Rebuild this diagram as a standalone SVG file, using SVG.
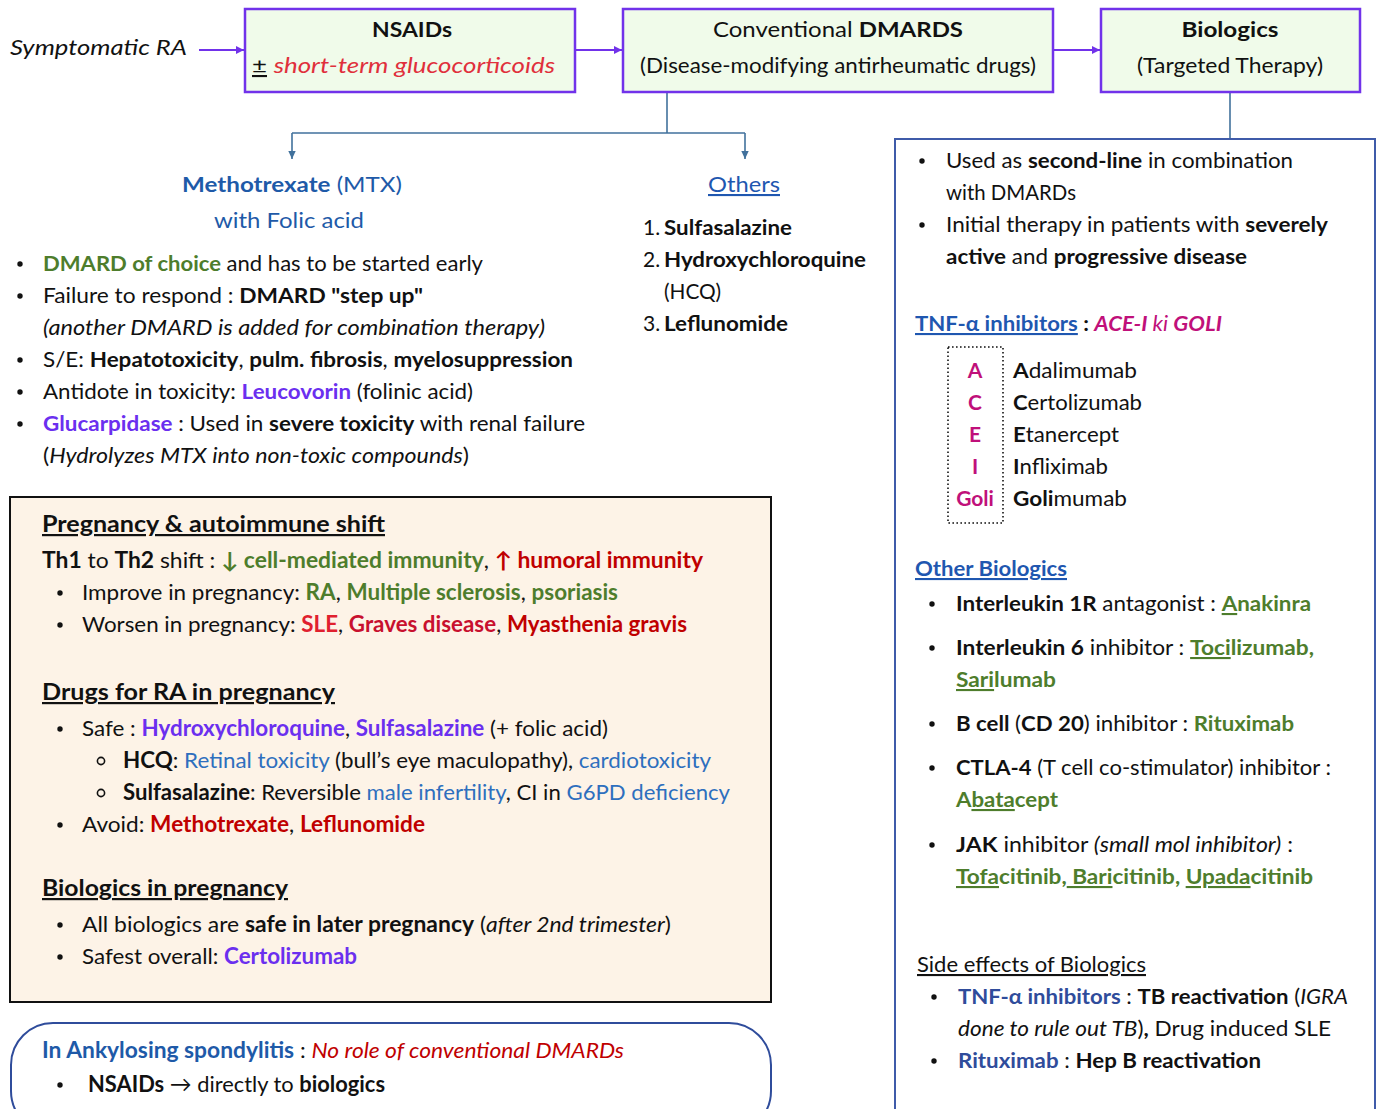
<svg xmlns="http://www.w3.org/2000/svg" width="1379" height="1109" viewBox="0 0 1379 1109">
  <defs>
    <marker id="ahP" markerUnits="userSpaceOnUse" markerWidth="9" markerHeight="9" refX="8" refY="4.5" orient="auto">
      <path d="M0,0.5 L8,4.5 L0,8.5 z" fill="#7132EA"/>
    </marker>
    <marker id="ahB" markerUnits="userSpaceOnUse" markerWidth="9" markerHeight="9" refX="8" refY="4.5" orient="auto">
      <path d="M0,0.8 L8,4.5 L0,8.2 z" fill="#41719C"/>
    </marker>
    <circle id="dot" r="2.7" fill="#111"/>
    <circle id="ring" r="3.6" fill="none" stroke="#111" stroke-width="1.6"/>
    <style>
      text { font-family: Lato, "Liberation Sans", sans-serif; font-size: 21px; fill: #111; }
      .b { font-weight: bold; }
      .i { font-style: italic; }
      .u { text-decoration: underline; }
      .box { fill: #F0FBEA; stroke: #7132EA; stroke-width: 2.5; }
      .blue { fill: #1E5AA8; }
      .lnk { fill: #1F57B0; }
      .grn { fill: #4E7D2C; }
      .pur { fill: #6B2FEF; }
      .red { fill: #C00000; }
      .mag { fill: #C0107A; }
      .sky { fill: #2E6FBE; }
      .navy { fill: #2F4C9B; }
      .nar { font-size: 22px; }
      .flow { fill: none; stroke: #7132EA; stroke-width: 2; }
      .conn { fill: none; stroke: #41719C; stroke-width: 1.6; }
    </style>
  </defs>

  <rect width="1379" height="1109" fill="#ffffff"/>

  <!-- connectors -->
  <g id="connectors">
    <line class="flow" x1="199" y1="50" x2="244" y2="50" marker-end="url(#ahP)"/>
    <line class="flow" x1="575" y1="50" x2="622" y2="50" marker-end="url(#ahP)"/>
    <line class="flow" x1="1053" y1="50" x2="1100" y2="50" marker-end="url(#ahP)"/>
    <path class="conn" d="M667,92 V133"/>
    <path class="conn" d="M292,133 H745"/>
    <path class="conn" d="M292,133 V159" marker-end="url(#ahB)"/>
    <path class="conn" d="M745,133 V159" marker-end="url(#ahB)"/>
    <path class="conn" d="M1230,92 V139"/>
  </g>

  <!-- start label -->
  <g id="start">
    <text x="10" y="55" class="i" font-size="22" textLength="177" lengthAdjust="spacingAndGlyphs">Symptomatic RA</text>
  </g>

  <!-- NSAIDs -->
  <g id="nsaids">
    <rect class="box" x="245" y="9" width="330" height="83"/>
    <text x="412" y="37" text-anchor="middle" class="b" textLength="80" lengthAdjust="spacingAndGlyphs">NSAIDs</text>
    <text x="252" y="73" textLength="303" lengthAdjust="spacingAndGlyphs"><tspan class="u">±</tspan> <tspan class="i" fill="#E0303C">short-term glucocorticoids</tspan></text>
  </g>

  <!-- Conventional DMARDs -->
  <g id="dmards">
    <rect class="box" x="623" y="9" width="430" height="83"/>
    <text x="838" y="37" text-anchor="middle" textLength="250" lengthAdjust="spacingAndGlyphs">Conventional <tspan class="b">DMARDS</tspan></text>
    <text x="838" y="73" text-anchor="middle" textLength="396" lengthAdjust="spacingAndGlyphs">(Disease-modifying antirheumatic drugs)</text>
  </g>

  <!-- Biologics -->
  <g id="biologics">
    <rect class="box" x="1101" y="9" width="259" height="83"/>
    <text x="1230" y="37" text-anchor="middle" class="b" textLength="97" lengthAdjust="spacingAndGlyphs">Biologics</text>
    <text x="1230" y="73" text-anchor="middle" textLength="186" lengthAdjust="spacingAndGlyphs">(Targeted Therapy)</text>
  </g>

  <!-- Methotrexate -->
  <g id="methotrexate">
    <text x="292" y="192" text-anchor="middle" class="blue" textLength="220" lengthAdjust="spacingAndGlyphs"><tspan class="b">Methotrexate</tspan> (MTX)</text>
    <text x="289" y="228" text-anchor="middle" class="blue" textLength="150" lengthAdjust="spacingAndGlyphs">with Folic acid</text>
    <use href="#dot" x="20" y="264"/>
    <use href="#dot" x="20" y="296"/>
    <use href="#dot" x="20" y="360"/>
    <use href="#dot" x="20" y="392"/>
    <use href="#dot" x="20" y="424"/>
    <text x="43" y="271" textLength="440" lengthAdjust="spacingAndGlyphs"><tspan class="b grn">DMARD of choice</tspan> and has to be started early</text>
    <text x="43" y="303" textLength="380" lengthAdjust="spacingAndGlyphs">Failure to respond :  <tspan class="b">DMARD "step up"</tspan></text>
    <text x="43" y="335" class="i" textLength="502" lengthAdjust="spacingAndGlyphs">(another DMARD is added for combination therapy)</text>
    <text x="43" y="367" textLength="530" lengthAdjust="spacingAndGlyphs">S/E: <tspan class="b">Hepatotoxicity</tspan>, <tspan class="b">pulm. fibrosis</tspan>, <tspan class="b">myelosuppression</tspan></text>
    <text x="43" y="399" textLength="430" lengthAdjust="spacingAndGlyphs">Antidote in toxicity: <tspan class="b pur">Leucovorin</tspan> (folinic acid)</text>
    <text x="43" y="431" textLength="542" lengthAdjust="spacingAndGlyphs"><tspan class="b pur">Glucarpidase</tspan> : Used in <tspan class="b">severe toxicity</tspan> with renal failure</text>
    <text x="43" y="463" textLength="426" lengthAdjust="spacingAndGlyphs">(<tspan class="i">Hydrolyzes MTX into non-toxic compounds</tspan>)</text>
  </g>

  <!-- Other conventional DMARDs -->
  <g id="others">
    <text x="708" y="192" class="u lnk" textLength="72" lengthAdjust="spacingAndGlyphs">Others</text>
    <text x="643" y="235">1.</text>
    <text x="664" y="235" class="b" textLength="128" lengthAdjust="spacingAndGlyphs">Sulfasalazine</text>
    <text x="643" y="267">2.</text>
    <text x="664" y="267" class="b" textLength="202" lengthAdjust="spacingAndGlyphs">Hydroxychloroquine</text>
    <text x="664" y="299" textLength="57" lengthAdjust="spacingAndGlyphs">(HCQ)</text>
    <text x="643" y="331">3.</text>
    <text x="664" y="331" class="b" textLength="124" lengthAdjust="spacingAndGlyphs">Leflunomide</text>
  </g>

  <!-- Biologics detail panel -->
  <g id="biologics-panel">
    <rect x="895" y="139" width="480" height="990" fill="none" stroke="#3F5BA9" stroke-width="2"/>
    <use href="#dot" x="922" y="161"/>
    <use href="#dot" x="922" y="225"/>
    <text x="946" y="168" textLength="347" lengthAdjust="spacingAndGlyphs">Used as <tspan class="b">second-line</tspan> in combination</text>
    <text x="946" y="200" textLength="130" lengthAdjust="spacingAndGlyphs">with DMARDs</text>
    <text x="946" y="232" textLength="382" lengthAdjust="spacingAndGlyphs">Initial therapy in patients with <tspan class="b">severely</tspan></text>
    <text x="946" y="264" textLength="301" lengthAdjust="spacingAndGlyphs"><tspan class="b">active</tspan> and <tspan class="b">progressive disease</tspan></text>

    <!-- TNF-alpha inhibitors -->
    <text x="915" y="331" textLength="307" lengthAdjust="spacingAndGlyphs"><tspan class="b u lnk">TNF-α inhibitors</tspan><tspan class="b"> : </tspan><tspan class="b i mag">ACE-I</tspan><tspan class="i mag"> ki </tspan><tspan class="b i mag">GOLI</tspan></text>
    <rect x="948" y="347" width="55" height="176" fill="none" stroke="#111" stroke-width="1.6" stroke-dasharray="1.6 2.4"/>
    <g class="b mag" text-anchor="middle">
      <text class="b mag" x="975" y="378">A</text>
      <text class="b mag" x="975" y="410">C</text>
      <text class="b mag" x="975" y="442">E</text>
      <text class="b mag" x="975" y="474">I</text>
      <text class="b mag" x="975" y="506">Goli</text>
    </g>
    <text x="1013" y="378" textLength="124" lengthAdjust="spacingAndGlyphs"><tspan class="b">A</tspan>dalimumab</text>
    <text x="1013" y="410" textLength="129" lengthAdjust="spacingAndGlyphs"><tspan class="b">C</tspan>ertolizumab</text>
    <text x="1013" y="442" textLength="106" lengthAdjust="spacingAndGlyphs"><tspan class="b">E</tspan>tanercept</text>
    <text x="1013" y="474" textLength="95" lengthAdjust="spacingAndGlyphs"><tspan class="b">I</tspan>nfliximab</text>
    <text x="1013" y="506" textLength="114" lengthAdjust="spacingAndGlyphs"><tspan class="b">Goli</tspan>mumab</text>

    <!-- Other biologics -->
    <text x="915" y="576" class="b u lnk" textLength="152" lengthAdjust="spacingAndGlyphs">Other Biologics</text>
    <use href="#dot" x="932" y="604"/>
    <use href="#dot" x="932" y="648"/>
    <use href="#dot" x="932" y="724"/>
    <use href="#dot" x="932" y="768"/>
    <use href="#dot" x="932" y="845"/>
    <text x="956" y="611" textLength="355" lengthAdjust="spacingAndGlyphs"><tspan class="b">Interleukin 1R</tspan> antagonist : <tspan class="b grn u">A</tspan><tspan class="b grn">nakinra</tspan></text>
    <text x="956" y="655" textLength="358" lengthAdjust="spacingAndGlyphs"><tspan class="b">Interleukin 6</tspan> inhibitor : <tspan class="b grn u">Toci</tspan><tspan class="b grn">lizumab,</tspan></text>
    <text x="956" y="687" textLength="100" lengthAdjust="spacingAndGlyphs"><tspan class="b grn u">Sari</tspan><tspan class="b grn">lumab</tspan></text>
    <text x="956" y="731" textLength="338" lengthAdjust="spacingAndGlyphs"><tspan class="b">B cell</tspan> (<tspan class="b">CD 20</tspan>) inhibitor : <tspan class="b grn">Rituximab</tspan></text>
    <text x="956" y="775" textLength="375" lengthAdjust="spacingAndGlyphs"><tspan class="b">CTLA-4</tspan> (T cell co-stimulator) inhibitor :</text>
    <text x="956" y="807" textLength="102" lengthAdjust="spacingAndGlyphs"><tspan class="b grn">A</tspan><tspan class="b grn u">bata</tspan><tspan class="b grn">cept</tspan></text>
    <text x="956" y="852" textLength="337" lengthAdjust="spacingAndGlyphs"><tspan class="b">JAK</tspan> inhibitor <tspan class="i">(small mol inhibitor)</tspan> :</text>
    <text x="956" y="884" textLength="357" lengthAdjust="spacingAndGlyphs"><tspan class="b grn u">Tofa</tspan><tspan class="b grn">citinib,</tspan><tspan class="b grn u"> Bari</tspan><tspan class="b grn">citinib, </tspan><tspan class="b grn u">Upada</tspan><tspan class="b grn">citinib</tspan></text>

    <!-- Side effects -->
    <text x="917" y="972" class="u" textLength="229" lengthAdjust="spacingAndGlyphs">Side effects of Biologics</text>
    <use href="#dot" x="934" y="997"/>
    <use href="#dot" x="934" y="1061"/>
    <text x="958" y="1004" textLength="390" lengthAdjust="spacingAndGlyphs"><tspan class="b navy">TNF-α inhibitors</tspan> : <tspan class="b">TB reactivation</tspan> (<tspan class="i">IGRA</tspan></text>
    <text x="958" y="1036" textLength="373" lengthAdjust="spacingAndGlyphs"><tspan class="i">done to rule out TB</tspan>)<tspan class="b">,</tspan> Drug induced SLE</text>
    <text x="958" y="1068" textLength="303" lengthAdjust="spacingAndGlyphs"><tspan class="b navy">Rituximab</tspan> : <tspan class="b">Hep B reactivation</tspan></text>
  </g>

  <!-- Pregnancy box -->
  <g id="pregnancy">
    <rect x="10" y="497" width="761" height="505" fill="#FDF3E7" stroke="#111" stroke-width="2"/>
    <text x="42" y="532" class="b u nar" textLength="343" lengthAdjust="spacingAndGlyphs">Pregnancy &amp; autoimmune shift</text>
    <text x="42" y="568" class="nar" textLength="661" lengthAdjust="spacingAndGlyphs"><tspan class="b">Th1</tspan> to <tspan class="b">Th2</tspan> shift : <tspan class="b grn">↓ cell-mediated immunity</tspan>, <tspan class="b red">↑ humoral immunity</tspan></text>
    <use href="#dot" x="60" y="593"/>
    <use href="#dot" x="60" y="625"/>
    <text x="82" y="600" class="nar" textLength="536" lengthAdjust="spacingAndGlyphs">Improve in pregnancy: <tspan class="b grn">RA</tspan>, <tspan class="b grn">Multiple sclerosis</tspan>, <tspan class="b grn">psoriasis</tspan></text>
    <text x="82" y="632" class="nar" textLength="605" lengthAdjust="spacingAndGlyphs">Worsen in pregnancy: <tspan class="b" fill="#E0202E">SLE</tspan>, <tspan class="b" fill="#C8102E">Graves disease</tspan>, <tspan class="b red">Myasthenia gravis</tspan></text>

    <text x="42" y="700" class="b u nar" textLength="293" lengthAdjust="spacingAndGlyphs">Drugs for RA in pregnancy </text>
    <use href="#dot" x="60" y="729"/>
    <text x="82" y="736" class="nar" textLength="526" lengthAdjust="spacingAndGlyphs">Safe : <tspan class="b pur">Hydroxychloroquine</tspan>, <tspan class="b pur">Sulfasalazine</tspan> (+ folic acid)</text>
    <use href="#ring" x="101" y="761"/>
    <use href="#ring" x="101" y="793"/>
    <text x="123" y="768" class="nar" textLength="588" lengthAdjust="spacingAndGlyphs"><tspan class="b">HCQ</tspan>: <tspan class="sky">Retinal toxicity</tspan> (bull’s eye maculopathy), <tspan class="sky">cardiotoxicity</tspan></text>
    <text x="123" y="800" class="nar" textLength="607" lengthAdjust="spacingAndGlyphs"><tspan class="b">Sulfasalazine</tspan>: Reversible <tspan class="sky">male infertility</tspan>, CI in <tspan class="sky">G6PD deficiency</tspan></text>
    <use href="#dot" x="60" y="825"/>
    <text x="82" y="832" class="nar" textLength="343" lengthAdjust="spacingAndGlyphs">Avoid: <tspan class="b red">Methotrexate</tspan>, <tspan class="b red">Leflunomide</tspan></text>

    <text x="42" y="896" class="b u nar" textLength="246" lengthAdjust="spacingAndGlyphs">Biologics in pregnancy</text>
    <use href="#dot" x="60" y="925"/>
    <use href="#dot" x="60" y="957"/>
    <text x="82" y="932" class="nar" textLength="589" lengthAdjust="spacingAndGlyphs">All biologics are <tspan class="b">safe in later pregnancy</tspan> (<tspan class="i">after 2nd trimester</tspan>)</text>
    <text x="82" y="964" class="nar" textLength="275" lengthAdjust="spacingAndGlyphs">Safest overall: <tspan class="b pur">Certolizumab</tspan></text>
  </g>

  <!-- Ankylosing spondylitis note -->
  <g id="ankylosing">
    <rect x="11" y="1023" width="760" height="110" rx="42" ry="42" fill="#ffffff" stroke="#2F4C9B" stroke-width="2"/>
    <text x="42" y="1058" class="nar" textLength="582" lengthAdjust="spacingAndGlyphs"><tspan class="b blue">In Ankylosing spondylitis</tspan> : <tspan class="i red">No role of conventional DMARDs</tspan></text>
    <use href="#dot" x="60" y="1085"/>
    <text x="88" y="1092" class="nar" textLength="297" lengthAdjust="spacingAndGlyphs"><tspan class="b">NSAIDs</tspan> → directly to <tspan class="b">biologics</tspan></text>
  </g>
</svg>
